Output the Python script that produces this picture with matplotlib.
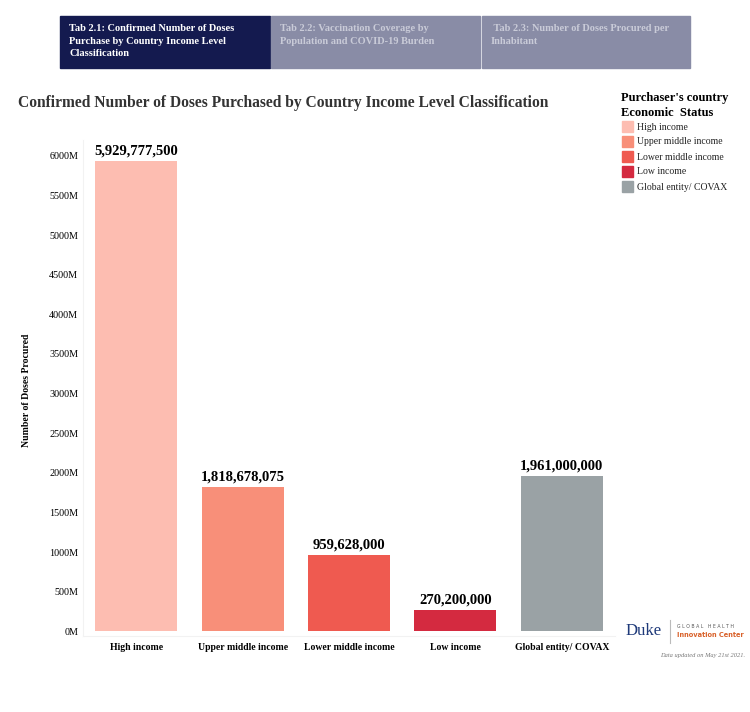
import matplotlib
matplotlib.use("Agg")
import matplotlib.pyplot as plt
from matplotlib.patches import Rectangle

categories = ["High income", "Upper middle income", "Lower middle income", "Low income", "Global entity/ COVAX"]
doses = [5929777500, 1818678075, 959628000, 270200000, 1961000000]
colors = ["#FDBDB1", "#F88F79", "#EF5A50", "#D42A40", "#9AA2A5"]
yticks_m = [0, 500, 1000, 1500, 2000, 2500, 3000, 3500, 4000, 4500, 5000, 5500, 6000]
tabs = ["Tab 2.1: Confirmed Number of Doses\nPurchase by Country Income Level\nClassification",
        "Tab 2.2: Vaccination Coverage by\nPopulation and COVID-19 Burden",
        " Tab 2.3: Number of Doses Procured per\nInhabitant"]

plt.rcParams['font.family'] = ['Liberation Serif', 'DejaVu Serif']

W, H = 750, 712
fig = plt.figure(figsize=(7.5, 7.12), dpi=100)

def fx(x): return x / W
def fy(y): return 1 - y / H

# Tabs
tab_x = [(60, 270), (271, 480), (482, 690)]
tab_bg = ["#141A4F", "#898CA6", "#898CA6"]
tab_fg = ["white", "#C9CBD8", "#C9CBD8"]
for (x0, x1), bg, fg, t in zip(tab_x, tab_bg, tab_fg, tabs):
    fig.patches.append(Rectangle((fx(x0), fy(68)), fx(x1 - x0), (68 - 16) / H,
                                 transform=fig.transFigure, color=bg, zorder=0))
    fig.text(fx(x0 + 9), fy(24), t, color=fg, fontsize=7.5, fontweight='bold',
             va='top', ha='left', linespacing=1.5)

# Axes
ax = fig.add_axes([fx(83), fy(636), fx(615 - 83), (636 - 140) / H])
vals_m = [d / 1e6 for d in doses]
x = range(len(categories))
ax.bar(x, vals_m, width=0.77, color=colors)
for xi, v, d in zip(x, vals_m, doses):
    ax.text(xi, v + 45, f"{d:,}", ha='center', va='bottom', fontsize=10.5, fontweight='bold')
ax.set_xlim(-0.5, 4.5)
ax.set_ylim(-60, 6200)
ax.set_yticks(yticks_m)
ax.set_yticklabels([f"{t}M" for t in yticks_m], fontsize=7.3)
ax.set_xticks(list(x))
ax.set_xticklabels(categories, fontsize=7, fontweight='bold')
ax.tick_params(axis='y', length=0, pad=3.5)
ax.tick_params(axis='x', length=0, pad=5)
for s in ['top', 'right']:
    ax.spines[s].set_visible(False)
for s in ['left', 'bottom']:
    ax.spines[s].set_color('#F2F2F2')
fig.text(fx(27), fy(390), "Number of Doses Procured", fontsize=7, fontweight='bold',
         rotation=90, ha='center', va='center')

# Title
fig.text(fx(18), fy(103), "Confirmed Number of Doses Purchased by Country Income Level Classification",
         fontsize=11.2, fontweight='bold', color='#333333', va='center', ha='left')

# Legend
fig.text(fx(621), fy(98), "Purchaser's country", fontsize=9, fontweight='bold', va='center')
fig.text(fx(621), fy(113), "Economic  Status", fontsize=9, fontweight='bold', va='center')
leg_y = [126, 141, 156, 171, 186]
for yy, c, lab in zip(leg_y, colors, categories):
    fig.patches.append(Rectangle((fx(622), fy(yy + 5.5)), fx(11), 11 / H,
                                 transform=fig.transFigure, color=c))
    fig.text(fx(637), fy(yy + 1), lab, fontsize=7, va='center', color='#222222')

# Duke logo
fig.text(fx(626), fy(631), "Duke", fontsize=12, color='#1F3A7A', va='center')
fig.add_artist(plt.Line2D([fx(670), fx(670)], [fy(620), fy(643)], transform=fig.transFigure,
                          color='#BBBBBB', lw=0.8))
fig.text(fx(677), fy(627), "G L O B A L   H E A L T H", fontsize=3.3, color='#555555', va='center',
         family='DejaVu Sans')
fig.text(fx(677), fy(635), "Innovation Center", fontsize=4.8, color='#D9622B', va='center',
         fontweight='bold', family='DejaVu Sans')
fig.text(fx(745), fy(655), "Data updated on May 21st 2021.", fontsize=4.6, style='italic',
         color='#777777', ha='right', va='center')

fig.savefig("out.png", dpi=100)
